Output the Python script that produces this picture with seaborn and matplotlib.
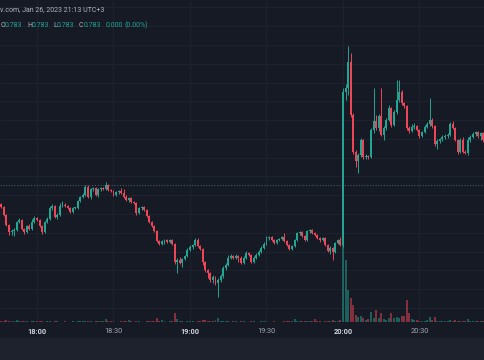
import numpy as np
import pandas as pd
import matplotlib
matplotlib.use("Agg")
import matplotlib.pyplot as plt
from matplotlib.patches import Rectangle
import seaborn as sns

# ---------------- data (1-minute candles, 17:46 .. 20:55) ----------------
start_time = "2023-01-26 17:46"
first_open = 0.713
close = [0.710, 0.702, 0.692, 0.685, 0.686, 0.687, 0.695, 0.697, 0.688, 0.685,
         0.691, 0.688, 0.695, 0.699, 0.697, 0.691, 0.685, 0.695, 0.698, 0.709,
         0.711, 0.700, 0.702, 0.711, 0.712, 0.711, 0.709, 0.705, 0.709, 0.709,
         0.716, 0.720, 0.722, 0.730, 0.720, 0.728, 0.729, 0.722, 0.728, 0.729,
         0.728, 0.732, 0.727, 0.726, 0.722, 0.725, 0.726, 0.724, 0.720, 0.717,
         0.719, 0.715, 0.714, 0.704, 0.709, 0.710, 0.707, 0.701, 0.695, 0.691,
         0.686, 0.676, 0.673, 0.676, 0.677, 0.675, 0.677, 0.673, 0.655, 0.657,
         0.654, 0.658, 0.661, 0.667, 0.670, 0.672, 0.677, 0.671, 0.668, 0.655,
         0.647, 0.644, 0.637, 0.640, 0.634, 0.637, 0.641, 0.649, 0.652, 0.659,
         0.661, 0.659, 0.661, 0.659, 0.654, 0.659, 0.664, 0.662, 0.655, 0.659,
         0.662, 0.665, 0.669, 0.673, 0.679, 0.680, 0.677, 0.674, 0.677, 0.678,
         0.680, 0.676, 0.672, 0.668, 0.671, 0.677, 0.684, 0.685, 0.681, 0.677,
         0.686, 0.687, 0.684, 0.682, 0.679, 0.677, 0.679, 0.672, 0.666, 0.669,
         0.665, 0.674, 0.677, 0.672, 0.825, 0.829, 0.855, 0.802, 0.765, 0.756,
         0.762, 0.777, 0.760, 0.761, 0.760, 0.787, 0.796, 0.789, 0.801, 0.782,
         0.789, 0.797, 0.809, 0.792, 0.805, 0.817, 0.825, 0.814, 0.811, 0.789,
         0.786, 0.790, 0.791, 0.787, 0.781, 0.785, 0.790, 0.793, 0.797, 0.791,
         0.773, 0.776, 0.778, 0.780, 0.781, 0.782, 0.793, 0.789, 0.777, 0.765,
         0.777, 0.765, 0.764, 0.777, 0.780, 0.783, 0.785, 0.781, 0.784, 0.777]
high = [0.714, 0.711, 0.703, 0.693, 0.688, 0.689, 0.696, 0.699, 0.698, 0.689,
        0.692, 0.693, 0.698, 0.701, 0.700, 0.698, 0.692, 0.696, 0.700, 0.711,
        0.713, 0.712, 0.704, 0.714, 0.716, 0.714, 0.712, 0.710, 0.710, 0.710,
        0.717, 0.721, 0.724, 0.732, 0.732, 0.729, 0.730, 0.730, 0.729, 0.730,
        0.730, 0.735, 0.733, 0.728, 0.727, 0.726, 0.727, 0.729, 0.728, 0.722,
        0.720, 0.720, 0.716, 0.715, 0.710, 0.711, 0.711, 0.708, 0.702, 0.696,
        0.692, 0.687, 0.677, 0.677, 0.678, 0.678, 0.678, 0.678, 0.674, 0.659,
        0.660, 0.659, 0.662, 0.669, 0.672, 0.673, 0.679, 0.679, 0.672, 0.669,
        0.656, 0.648, 0.645, 0.642, 0.641, 0.639, 0.643, 0.651, 0.654, 0.662,
        0.663, 0.662, 0.663, 0.662, 0.661, 0.661, 0.666, 0.665, 0.663, 0.661,
        0.664, 0.667, 0.671, 0.675, 0.681, 0.681, 0.681, 0.678, 0.678, 0.679,
        0.681, 0.684, 0.677, 0.673, 0.672, 0.678, 0.685, 0.686, 0.686, 0.682,
        0.687, 0.688, 0.688, 0.685, 0.683, 0.680, 0.680, 0.680, 0.673, 0.671,
        0.670, 0.675, 0.678, 0.680, 0.829, 0.833, 0.871, 0.864, 0.804, 0.767,
        0.764, 0.779, 0.778, 0.763, 0.762, 0.789, 0.829, 0.802, 0.803, 0.829,
        0.791, 0.799, 0.812, 0.810, 0.807, 0.837, 0.837, 0.827, 0.815, 0.812,
        0.791, 0.793, 0.794, 0.792, 0.788, 0.786, 0.792, 0.795, 0.819, 0.799,
        0.792, 0.778, 0.779, 0.782, 0.783, 0.784, 0.795, 0.796, 0.790, 0.778,
        0.779, 0.780, 0.767, 0.780, 0.782, 0.785, 0.786, 0.786, 0.785, 0.785]
low = [0.709, 0.701, 0.691, 0.682, 0.682, 0.681, 0.686, 0.694, 0.687, 0.683,
       0.684, 0.687, 0.687, 0.694, 0.696, 0.690, 0.683, 0.684, 0.694, 0.697,
       0.707, 0.699, 0.698, 0.701, 0.710, 0.710, 0.708, 0.704, 0.704, 0.708,
       0.708, 0.715, 0.719, 0.721, 0.719, 0.718, 0.726, 0.721, 0.720, 0.726,
       0.727, 0.727, 0.726, 0.725, 0.721, 0.721, 0.723, 0.723, 0.719, 0.716,
       0.715, 0.714, 0.713, 0.702, 0.703, 0.707, 0.706, 0.700, 0.694, 0.690,
       0.685, 0.675, 0.672, 0.672, 0.673, 0.674, 0.674, 0.672, 0.653, 0.644,
       0.653, 0.650, 0.657, 0.660, 0.666, 0.668, 0.671, 0.670, 0.667, 0.652,
       0.645, 0.639, 0.635, 0.634, 0.632, 0.620, 0.635, 0.639, 0.647, 0.651,
       0.658, 0.658, 0.658, 0.655, 0.653, 0.653, 0.658, 0.661, 0.654, 0.654,
       0.658, 0.661, 0.664, 0.668, 0.672, 0.677, 0.676, 0.673, 0.673, 0.676,
       0.677, 0.675, 0.671, 0.667, 0.667, 0.670, 0.676, 0.682, 0.680, 0.676,
       0.676, 0.684, 0.683, 0.681, 0.678, 0.675, 0.676, 0.671, 0.665, 0.663,
       0.657, 0.664, 0.673, 0.671, 0.670, 0.817, 0.822, 0.800, 0.763, 0.750,
       0.744, 0.760, 0.758, 0.758, 0.758, 0.759, 0.784, 0.787, 0.786, 0.781,
       0.777, 0.787, 0.796, 0.790, 0.791, 0.803, 0.815, 0.812, 0.809, 0.787,
       0.784, 0.785, 0.788, 0.786, 0.779, 0.780, 0.784, 0.789, 0.791, 0.789,
       0.771, 0.768, 0.774, 0.776, 0.778, 0.779, 0.781, 0.788, 0.776, 0.763,
       0.764, 0.764, 0.763, 0.762, 0.775, 0.779, 0.781, 0.779, 0.777, 0.775]
volume = [150, 100, 200, 150, 100, 100, 200, 100, 150, 100,
          100, 50, 100, 100, 150, 100, 100, 50, 100, 100,
          50, 100, 100, 50, 50, 100, 50, 50, 100, 50,
          100, 100, 100, 150, 100, 100, 50, 100, 100, 100,
          100, 300, 100, 100, 100, 50, 50, 100, 100, 100,
          200, 100, 50, 100, 100, 50, 50, 100, 100, 150,
          150, 400, 100, 200, 100, 50, 100, 100, 900, 300,
          100, 100, 50, 100, 100, 100, 50, 100, 100, 200,
          200, 100, 150, 100, 200, 400, 100, 100, 100, 100,
          50, 100, 100, 50, 100, 100, 50, 50, 100, 100,
          50, 50, 100, 100, 100, 50, 50, 100, 50, 50,
          50, 100, 100, 100, 100, 300, 100, 100, 100, 100,
          100, 100, 100, 300, 100, 100, 50, 100, 150, 100,
          200, 100, 100, 200, 8500, 6200, 3200, 2400, 1700, 700,
          500, 600, 400, 200, 300, 1000, 400, 1200, 400, 900,
          300, 200, 400, 900, 400, 500, 400, 600, 600, 2200,
          900, 300, 200, 200, 100, 100, 100, 200, 500, 200,
          500, 150, 100, 100, 150, 100, 200, 100, 200, 100,
          100, 150, 100, 300, 150, 100, 100, 150, 100, 100]
tick_labels = ["18:00", "18:30", "19:00", "19:30", "20:00", "20:30"]
price_line = 0.732
header = "v.com, Jan 26, 2023 21:13 UTC+3"
ohlc_value = "0.783"
change_text = "0.000"
change_pct = "(0.00%)"

# ---------------- styling ----------------
BG = "#161a25"
STRIP = "#1e222d"
GRID = "#1e222e"
UP = "#22a592"
DOWN = "#ee4657"
sns.set_theme(style="dark", rc={"axes.facecolor": BG, "figure.facecolor": BG,
                                "savefig.facecolor": BG})
plt.rcParams["font.family"] = ["Roboto", "DejaVu Sans"]

n = len(close)
idx = np.arange(n)
times = pd.date_range(start_time, periods=n, freq="min")
opn = np.array([first_open] + close[:-1])
cls = np.array(close)
hi = np.maximum.reduce([np.array(high), opn, cls])
lo = np.minimum.reduce([np.array(low), opn, cls])
up = cls >= opn
colors = np.where(up, UP, DOWN)
tick_pos = [int(np.where(times.strftime("%H:%M") == t)[0][0]) for t in tick_labels]

W, H = 485, 360
fig = plt.figure(figsize=(W / 100, H / 100), dpi=100)
pane_h = 322
rect = [0, (H - pane_h) / H, 1, pane_h / H]
ax_vol = fig.add_axes(rect)
ax = fig.add_axes(rect, sharex=ax_vol)
ax.set_facecolor("none")
ax_vol.set_facecolor(BG)
fig.patches.append(Rectangle((0, 0), 1, 22 / H, transform=fig.transFigure,
                             facecolor=STRIP, edgecolor="none", zorder=-1))

# volume (seaborn)
vol_df = pd.DataFrame({"i": idx, "volume": volume,
                       "dir": np.where(up, "up", "down")})
sns.barplot(data=vol_df, x="i", y="volume", hue="dir", native_scale=True,
            palette={"up": UP, "down": DOWN}, dodge=False, width=0.78,
            errorbar=None, legend=False, saturation=1, alpha=0.5,
            linewidth=0, ax=ax_vol)
vtop = max(volume) * 3.79
ax_vol.set_ylim(0, vtop)

# grid
for k in range(17):
    ypx = 7.4 + 18.78 * k
    ax_vol.axhline(vtop * (1 - ypx / pane_h), color=GRID, lw=0.8, zorder=0)
for t in tick_pos:
    ax_vol.axvline(t, color=GRID, lw=0.8, zorder=0)

# candles
ax.vlines(idx, lo, hi, colors=colors, lw=0.7, zorder=3)
body_bottom = np.minimum(opn, cls)
body_h = np.maximum(np.abs(cls - opn), 0.0011)
ax.bar(idx, body_h, bottom=body_bottom, width=0.78, color=colors,
       linewidth=0, zorder=4)
ax.axhline(price_line, color="#3f5a60", lw=0.8, ls=(0, (1, 1.5)), zorder=2)

ax.set_xlim(-0.51, 189.69)
ax.set_ylim(0.917 - pane_h / 1000, 0.917)

for a in (ax, ax_vol):
    for s in a.spines.values():
        s.set_visible(False)
    a.set_xlabel("")
    a.set_ylabel("")
    a.set_yticks([])
    a.grid(False)
ax.tick_params(axis="x", bottom=False, labelbottom=False)
ax_vol.set_xticks(tick_pos)
ax_vol.set_xticklabels(tick_labels)
ax_vol.tick_params(axis="x", length=0, pad=4.3, labelsize=5.3)
for lab in ax_vol.get_xticklabels():
    if lab.get_text().endswith(":00"):
        lab.set_color("#d1d4dc")
        lab.set_fontweight("bold")
    else:
        lab.set_color("#a3a6af")

# header texts
def ftext(xp, yp, s, c, **kw):
    fig.text(xp / W, 1 - yp / H, s, color=c, fontsize=5.0, va="center",
             ha="left", **kw)

ftext(0, 9.5, header, "#b2b5be")
GRAY = "#b2b5be"
TEAL = "#22a592"
ftext(0.5, 25.5, "O", GRAY)
ftext(5, 25.5, ohlc_value, TEAL)
ftext(27.5, 25.5, "H", GRAY)
ftext(32, 25.5, ohlc_value, TEAL)
ftext(53.5, 25.5, "L", GRAY)
ftext(57, 25.5, ohlc_value, TEAL)
ftext(79, 25.5, "C", GRAY)
ftext(84, 25.5, ohlc_value, TEAL)
ftext(106, 25.5, change_text, TEAL)
ftext(125, 25.5, change_pct, TEAL)

fig.savefig("out.png", dpi=100, facecolor=BG)
